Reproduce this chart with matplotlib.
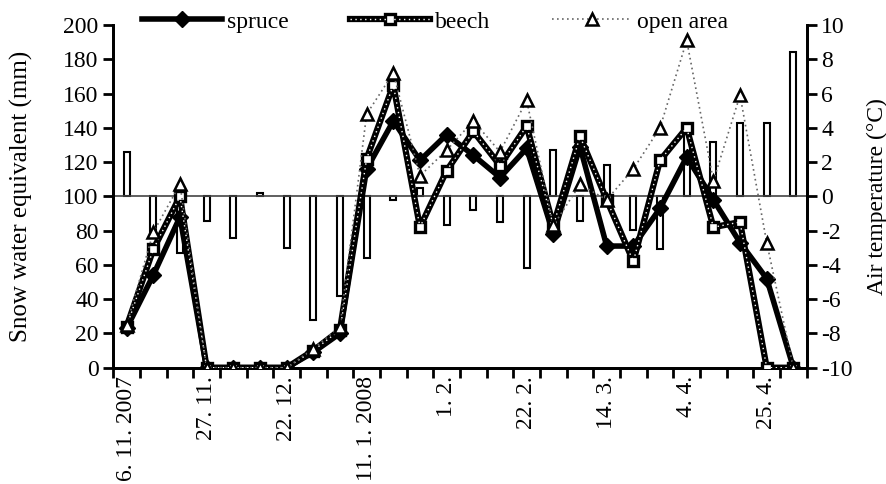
import numpy as np
import matplotlib
matplotlib.use('Agg')
import matplotlib.pyplot as plt
from matplotlib.lines import Line2D

plt.rcParams['font.family'] = 'Liberation Serif'
plt.rcParams['axes.unicode_minus'] = False

# snow water equivalent (mm) per survey, three stands
spruce = [23, 54, 88, 0, 0, 0, 0, 9, 20, 116, 144, 121, 136, 124, 111, 128,
          78, 129, 71, 71, 93, 123, 98, 73, 52, 0]
beech = [24, 69, 100, 0, 0, 0, 0, 10, 22, 122, 165, 82, 115, 138, 118, 141,
         83, 135, 98, 62, 121, 140, 82, 85, 0, 0]
open_area = [25, 79, 107, 0, 0, 0, 0, 11, 24, 148, 172, 112, 127, 144, 126, 156,
             83, 107, 98, 116, 140, 191, 109, 159, 73, 0]

# air temperature (°C)
temperature = [2.6, -2.1, -3.3, -1.45, -2.45, 0.2, -3.0, -7.2, -5.8, -3.6, -0.2, 0.5,
               -1.7, -0.8, -1.5, -4.2, 2.7, -1.45, 1.85, -1.95, -3.05, 4.2, 3.2, 4.3,
               4.3, 8.4]

date_labels = ['6. 11. 2007', '27. 11.', '22. 12.', '11. 1. 2008', '1. 2.',
               '22. 2.', '14. 3.', '4. 4.', '25. 4.']

x = np.arange(len(spruce))
fs = 17

fig = plt.figure(figsize=(8.87, 4.84), dpi=100)
ax = fig.add_axes([0.1277, 0.2403, 0.7818, 0.708])
ax2 = ax.twinx()
ax.set_zorder(ax2.get_zorder() + 1)
ax.patch.set_visible(False)

# temperature bars on the right axis
ax2.bar(x, temperature, width=0.22, color='white', edgecolor='black', linewidth=1.5)
ax2.axhline(0, color='#444444', linewidth=1.2)
ax2.set_ylim(-10, 10)
ax2.set_yticks(np.arange(-10, 11, 2))
ax2.set_ylabel('Air temperature (°C)', fontsize=fs, labelpad=10)

# snow lines on the left axis
ax.plot(x, spruce, color='black', linewidth=4, marker='D', markersize=8.5,
        markerfacecolor='black', markeredgecolor='black', zorder=3)
ax.plot(x, beech, color='black', linewidth=4.5, marker='s', markersize=7,
        markerfacecolor='white', markeredgecolor='black', markeredgewidth=2.4, zorder=4)
ax.plot(x, beech, color='white', linewidth=1, linestyle=(0, (1, 2.5)), zorder=4.5)
ax.plot(x, open_area, color='#666666', linewidth=1.2, linestyle=(0, (1, 2)), marker='^',
        markersize=9, markerfacecolor='white', markeredgecolor='black',
        markeredgewidth=1.8, zorder=5)

ax.set_ylim(0, 200)
ax.set_yticks(np.arange(0, 201, 20))
ax.set_xlim(-0.5, len(x) - 0.5)
ax.set_ylabel('Snow water equivalent (mm)', fontsize=18, labelpad=22)

ax.set_xticks(x[::3])
ax.set_xticklabels(date_labels, rotation=90, fontsize=fs)
ax.set_xticks(np.arange(-0.5, len(x), 1), minor=True)
ax.tick_params(axis='x', which='major', length=0, pad=6)
ax.tick_params(axis='x', which='minor', length=7, width=2, direction='out')
ax.tick_params(axis='y', length=7, width=2, direction='out', labelsize=fs)
ax2.tick_params(axis='y', length=7, width=2, direction='out', labelsize=fs)

for a in (ax, ax2):
    a.spines['top'].set_visible(False)
    for s in ('left', 'right', 'bottom'):
        a.spines[s].set_linewidth(2)

# legend handles combine the beech line with its white dotted core
h_spruce = Line2D([], [], color='black', linewidth=4, marker='D', markersize=8.5)
h_beech = (Line2D([], [], color='black', linewidth=4.5, marker='s', markersize=7,
                  markerfacecolor='white', markeredgewidth=2.4),
           Line2D([], [], color='white', linewidth=1, linestyle=(0, (1, 2.5))))
h_open = Line2D([], [], color='#666666', linewidth=1.2, linestyle=(0, (1, 2)), marker='^',
                markersize=9, markerfacecolor='white', markeredgecolor='black',
                markeredgewidth=1.8)
fig.legend([h_spruce, h_beech, h_open], ['spruce', 'beech', 'open area'],
           loc='center', bbox_to_anchor=(0.49, 0.955), ncol=3, frameon=False,
           fontsize=fs, handlelength=3.4, handletextpad=0.2, columnspacing=2.6,
           numpoints=1)

fig.savefig('out.png', dpi=100)
